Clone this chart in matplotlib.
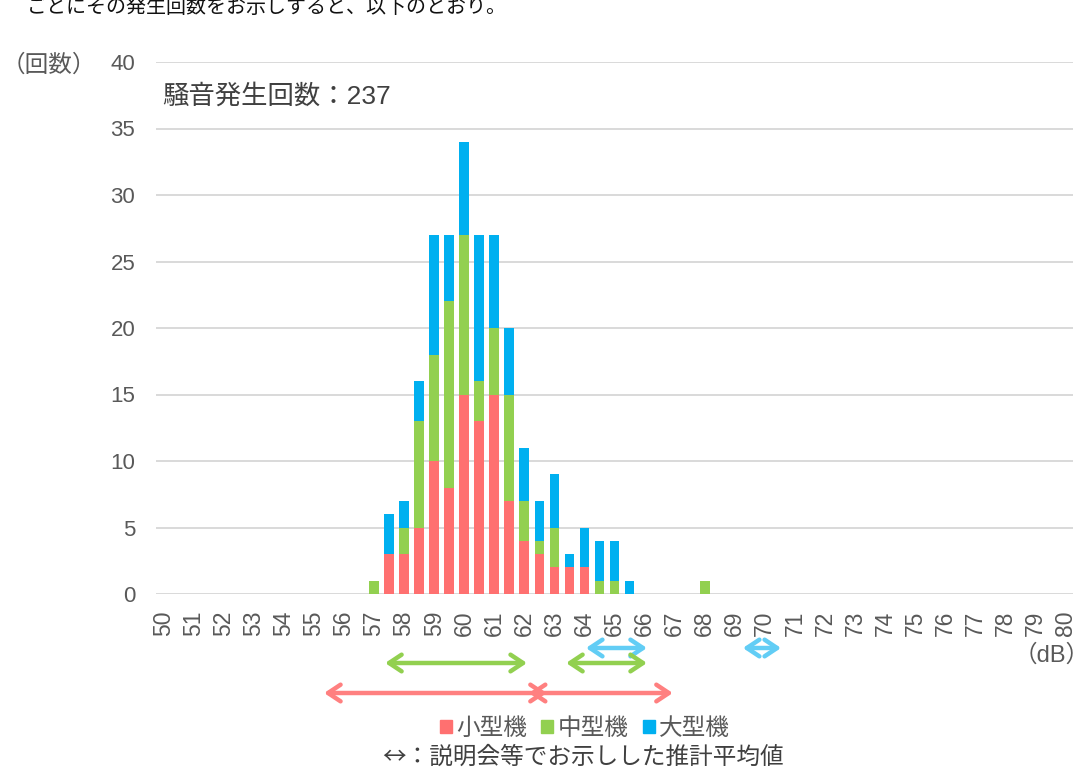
import matplotlib
matplotlib.use("Agg")
import matplotlib.pyplot as plt
from matplotlib.patches import Patch

plt.rcParams['font.family'] = ['Liberation Sans', 'Noto Sans CJK JP', 'DejaVu Sans']

# ---- data ----
levels = [57.0, 57.5, 58.0, 58.5, 59.0, 59.5, 60.0, 60.5, 61.0, 61.5,
          62.0, 62.5, 63.0, 63.5, 64.0, 64.5, 65.0, 65.5, 68.0]
small = [0, 3, 3, 5, 10, 8, 15, 13, 15, 7, 4, 3, 2, 2, 2, 0, 0, 0, 0]
medium = [1, 0, 2, 8, 8, 14, 12, 3, 5, 8, 3, 1, 3, 0, 0, 1, 1, 0, 1]
large = [0, 3, 2, 3, 9, 5, 7, 11, 7, 5, 4, 3, 4, 1, 3, 3, 3, 1, 0]
series_names = ['小型機', '中型機', '大型機']
tick_values = list(range(50, 81))
y_ticks = [0, 5, 10, 15, 20, 25, 30, 35, 40]

# estimated average ranges shown at the explanation meetings (dB)
small_ranges = [(55.34, 62.75), (62.15, 66.94)]
medium_ranges = [(57.37, 62.09), (63.39, 66.08)]
large_ranges = [(64.05, 66.08), (69.27, 70.54)]

total_text = '騒音発生回数：237'

# ---- style ----
c_small = '#FF7070'
c_medium = '#92D050'
c_large = '#00B0F0'
a_small = '#FF8080'
a_medium = '#92D050'
a_large = '#62CDF5'
txt = '#595959'

W, H = 1091, 770
fig = plt.figure(figsize=(W / 100, H / 100), dpi=100)
ax = fig.add_axes([156 / W, 1 - 594 / H, (1073 - 156) / W, (594 - 62) / H])

bottom2 = [a + b for a, b in zip(small, medium)]
ax.bar(levels, small, width=0.32, color=c_small, zorder=3)
ax.bar(levels, medium, width=0.32, bottom=small, color=c_medium, zorder=3)
ax.bar(levels, large, width=0.32, bottom=bottom2, color=c_large, zorder=3)

ax.set_xlim(49.75, 80.25)
ax.set_ylim(0, 40)
ax.set_yticks(y_ticks)
ax.set_xticks(tick_values)
ax.set_xticklabels([str(v) for v in tick_values], rotation=90)
ax.yaxis.grid(True, color='#D9D9D9', lw=1.4, zorder=0)
ax.set_axisbelow(True)
for s in ax.spines.values():
    s.set_visible(False)
ax.tick_params(axis='both', length=0, labelcolor=txt)
ax.tick_params(axis='y', pad=15, labelsize=16)
ax.tick_params(axis='x', pad=12, labelsize=16.5)

# arrows
trans = ax.get_xaxis_transform()
def draw_arrows(ranges, y, color):
    for x0, x1 in ranges:
        ax.annotate('', xy=(x1, y), xytext=(x0, y), xycoords=trans, textcoords=trans,
                    annotation_clip=False,
                    arrowprops=dict(arrowstyle='<->,head_length=0.9,head_width=0.6',
                                    color=color, lw=3.2, shrinkA=0, shrinkB=0,
                                    capstyle='round', joinstyle='round'))

draw_arrows(large_ranges, -0.1015, a_large)
draw_arrows(medium_ranges, -0.1297, a_medium)
draw_arrows(small_ranges, -0.1861, a_small)

# texts
ax.text(162 / W, 1 - 96 / H, total_text, transform=fig.transFigure, fontsize=19,
        color='#404040', va='center', ha='left')
fig.text(2 / W, 1 - 66 / H, '（回数）', fontsize=17, color=txt, va='center', ha='left')
fig.text(1090 / W, 1 - 656 / H, '（dB）', fontsize=17, color=txt, va='center', ha='right')
fig.text(27 / W, 1 - 13 / H, 'ごとにその発生回数をお示しすると、以下のとおり。',
         fontsize=14.4, color='#111111', va='baseline', ha='left')

handles = [Patch(color=c) for c in (c_small, c_medium, c_large)]
leg = fig.legend(handles, series_names, ncol=3, loc='center',
                 bbox_to_anchor=(585 / W, 1 - 729 / H), frameon=False,
                 handlelength=0.5, handleheight=0.5, handletextpad=0.2,
                 columnspacing=0.6, fontsize=17)
for t in leg.get_texts():
    t.set_color(txt)
fig.text(583 / W, 1 - 757 / H, '↔：説明会等でお示しした推計平均値', fontsize=17,
         color='#404040', va='center', ha='center',
         family=['Noto Sans CJK JP', 'DejaVu Sans'])

fig.savefig('out.png', dpi=100)
